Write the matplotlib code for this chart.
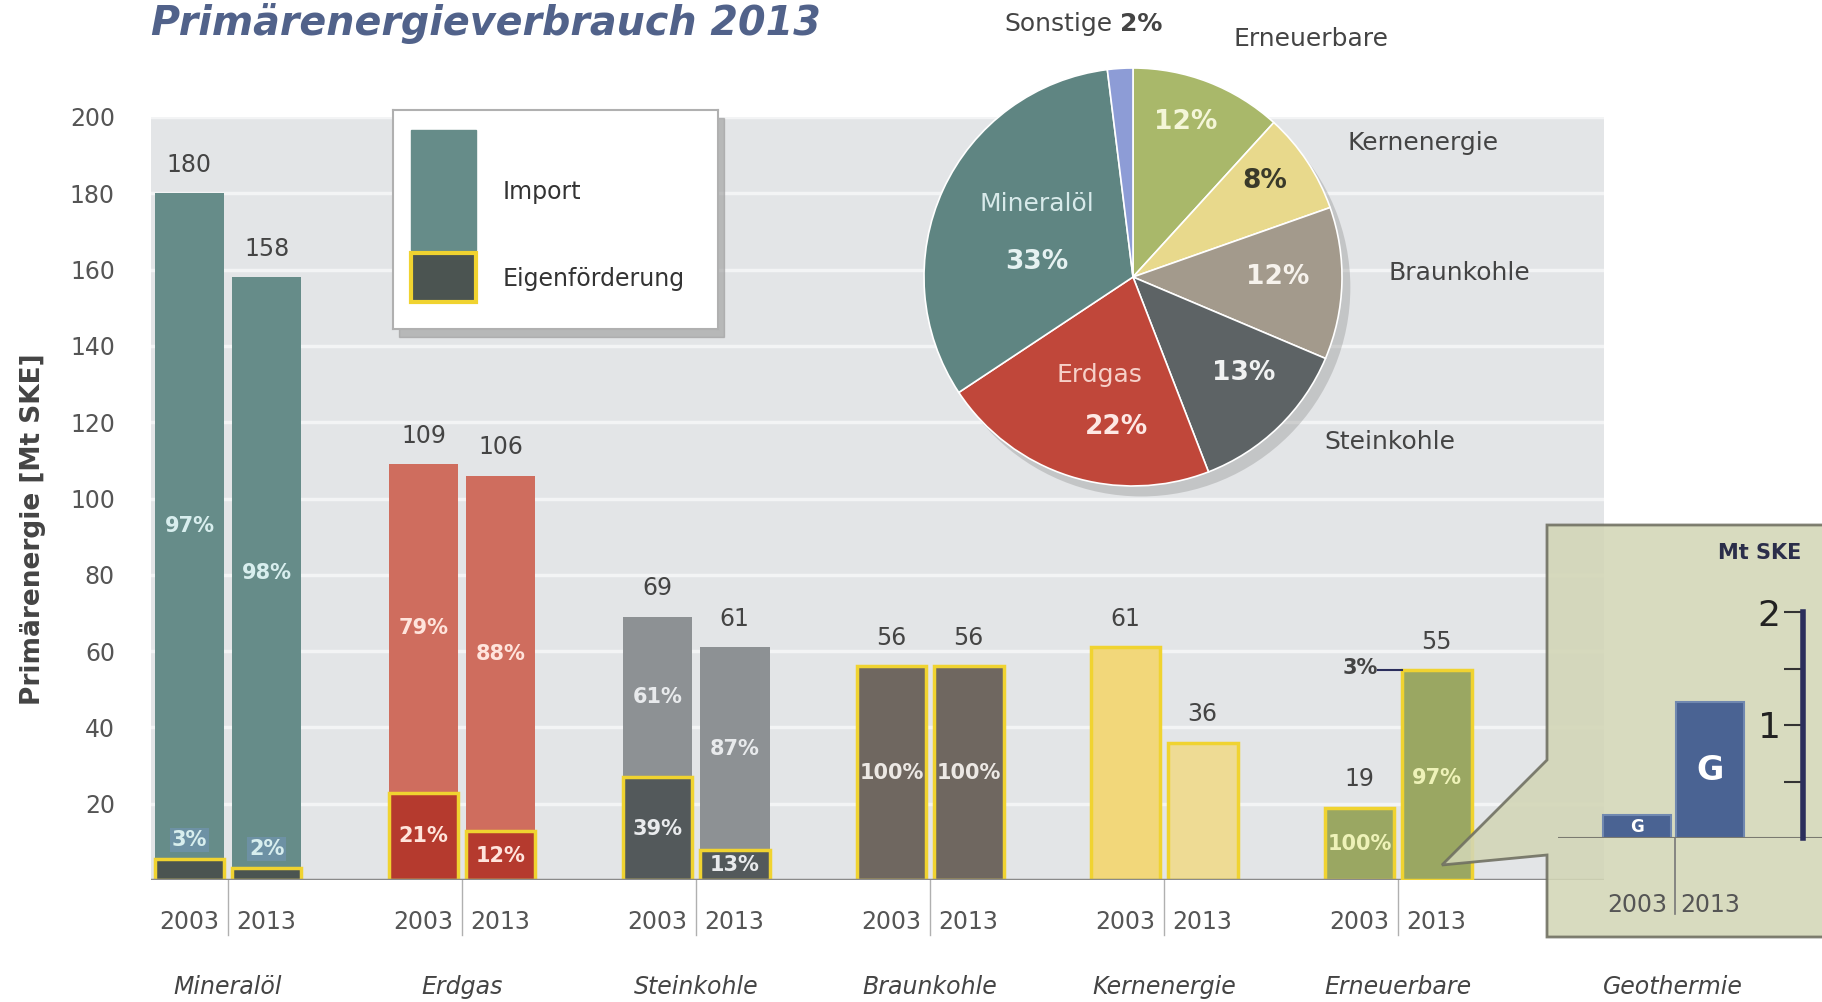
import matplotlib
matplotlib.use('Agg')
import matplotlib.pyplot as plt
from matplotlib.patches import Rectangle, Polygon, Circle

# Daten
categories = ['Mineralöl', 'Erdgas', 'Steinkohle', 'Braunkohle', 'Kernenergie', 'Erneuerbare']
years = ['2003', '2013']
total_2003 = [180, 109, 69, 56, 61, 19]
total_2013 = [158, 106, 61, 56, 36, 55]
# Anteil Eigenförderung in %, None = keine Aufteilung
own_pct_2003 = [3, 21, 39, 100, None, 100]
own_pct_2013 = [2, 12, 13, 100, None, 97]

pie_labels = ['Erneuerbare', 'Kernenergie', 'Braunkohle', 'Steinkohle', 'Erdgas', 'Mineralöl', 'Sonstige']
pie_pct = [12, 8, 12, 13, 22, 33, 2]

geo_years = ['2003', '2013']
geo_values = [0.2, 1.2]

# Farben
imp_colors = ['#668c89', '#cf6d5e', '#8d9194', '#6f6760', '#f2d77a', '#9aa762']
own_colors = ['#4b5451', '#b53a2e', '#53595b', '#6f6760', '#f2d77a', '#9aa762']
pct_colors = ['#d8eeee', '#ffe4dc', '#e8eaec', '#ece8e4', '#ffffff', '#eef2b8']
imp_edge = [False, False, False, False, False, True]
yellow = '#f0d330'
pie_colors = ['#a9b86a', '#e8d98c', '#a39a8c', '#5d6365', '#c0473a', '#5f8582', '#8d9cd6']

W, H = 1822, 1002


def fx(x):
    return x / W


def fy(y):
    return 1 - y / H


fig = plt.figure(figsize=(W / 100, H / 100), dpi=100)
fig.patch.set_facecolor('white')

# Hauptdiagramm
ax = fig.add_axes([fx(151), fy(880), fx(1604 - 151), (880 - 117) / H])
ax.set_facecolor('#e3e5e7')
ax.set_xlim(-0.329, 5.88)
ax.set_ylim(0, 200)
for s in ax.spines.values():
    s.set_visible(False)
ax.set_xticks([])
ax.set_yticks(range(20, 201, 20))
ax.tick_params(axis='y', length=0, pad=26, labelsize=17, labelcolor='#555555')
for t in range(20, 201, 20):
    ax.axhline(t, color='white', lw=2.5, alpha=0.6, zorder=1)
ax.axhline(0, color='#8a8a8a', lw=2.5, zorder=4)

bw = 0.298
offsets = [-0.165, 0.165]
for i, cat in enumerate(categories):
    for j, (tot, pct) in enumerate([(total_2003[i], own_pct_2003[i]), (total_2013[i], own_pct_2013[i])]):
        x = i + offsets[j]
        ax.text(x, tot + 7.5, str(tot), ha='center', va='center', fontsize=17, color='#444444', zorder=6)
        if pct is None:
            col = imp_colors[i] if j == 0 else '#eedb94'
            ax.bar(x, tot, width=bw, color=col, edgecolor=yellow, lw=2.5, zorder=3)
            continue
        own = tot * pct / 100
        imp = tot - own
        own_edge = yellow
        if imp > 0:
            if imp_edge[i]:
                # ganze Säule gelb umrandet
                ax.bar(x, tot, width=bw, color=imp_colors[i], edgecolor=yellow, lw=2.5, zorder=4)
                own_edge = 'none'
            else:
                ax.bar(x, imp, bottom=own, width=bw, color=imp_colors[i], lw=0, zorder=2)
            imp_pct = 100 - pct
            if imp_pct >= 10:
                ax.text(x, own + imp / 2, f'{imp_pct}%', ha='center', va='center', fontsize=15,
                        fontweight='bold', color=pct_colors[i], zorder=6)
            else:
                ax.text(x - bw / 2 - 0.1, tot + 0.5, f'{imp_pct}%', ha='right', va='center', fontsize=15,
                        fontweight='bold', color='#444444', zorder=6)
                ax.plot([x - bw / 2 - 0.1, x - bw / 2], [tot, tot], color='#2b2e5c', lw=1.5, zorder=6)
        if own_edge == 'none':
            ax.bar(x, own, width=bw, color=own_colors[i], lw=0, zorder=3)
        else:
            ax.bar(x, own, width=bw, color=own_colors[i], edgecolor=yellow, lw=2.5, zorder=3)
        ly = own + 5 if own < 7 else own / 2
        bbox = dict(boxstyle='square,pad=0.1', fc='#6f93ac', ec='none', alpha=0.8) if own < 7 else None
        ax.text(x, ly, f'{pct}%', ha='center', va='center', fontsize=15, fontweight='bold',
                color=pct_colors[i], zorder=6, bbox=bbox)
    # Jahresbeschriftung
    for j in range(2):
        ax.text(i + offsets[j], -11, years[j], ha='center', va='center', fontsize=17,
                color='#555555', clip_on=False)
    ax.plot([i, i], [0, -14.5], color='#b0b0b0', lw=1, clip_on=False)
    ax.text(i, -28, cat, ha='center', va='center', fontsize=17, style='italic',
            color='#444444', clip_on=False)

# Titel und Achsenbeschriftung
fig.text(fx(151), fy(23), 'Primärenergieverbrauch 2013', ha='left', va='center', fontsize=28.5,
         fontweight='bold', style='italic', color='#51628a')
fig.text(fx(33), fy(529), 'Primärenergie [Mt SKE]', rotation=90, ha='center', va='center',
         fontsize=19, fontweight='bold', color='#444444')

# Legende
fig.add_artist(Rectangle((fx(399), fy(337)), fx(325), 219 / H, transform=fig.transFigure,
                         color='#9a9a9a', alpha=0.6, zorder=2))
lax = fig.add_axes([fx(393), fy(329), fx(325), 219 / H], zorder=3)
lax.set_xlim(0, 1)
lax.set_ylim(0, 1)
lax.set_xticks([])
lax.set_yticks([])
lax.set_facecolor('white')
for s in lax.spines.values():
    s.set_color('#b0b0b0')
    s.set_linewidth(1.5)
lax.add_patch(Rectangle((0.055, 0.361), 0.2, 0.548, color=imp_colors[0]))
lax.add_patch(Rectangle((0.055, 0.123), 0.2, 0.224, fc=own_colors[0], ec=yellow, lw=3))
lax.text(0.338, 0.626, 'Import', fontsize=17, va='center', color='#333333')
lax.text(0.338, 0.228, 'Eigenförderung', fontsize=17, va='center', color='#333333')

# Tortendiagramm
r_ext = 1.15
pax = fig.add_axes([fx(1133 - 209 * r_ext), fy(277 + 209 * r_ext), fx(2 * 209 * r_ext), 2 * 209 * r_ext / H],
                   zorder=3)
pax.set_xlim(-r_ext, r_ext)
pax.set_ylim(-r_ext, r_ext)
pax.axis('off')
pax.add_patch(Circle((0.04, -0.05), 1.0, color='#8a8a8a', alpha=0.35, lw=0))
pax.pie(pie_pct, colors=pie_colors, startangle=90, counterclock=False,
        wedgeprops=dict(edgecolor='white', linewidth=1.2), radius=1.0)
pax.set_xlim(-r_ext, r_ext)
pax.set_ylim(-r_ext, r_ext)
pax.set_aspect('equal')

inner = {
    'Erneuerbare': (0.25, 0.74, '#f4f6d8'),
    'Kernenergie': (0.63, 0.46, '#3a3a2a'),
    'Braunkohle': (0.69, 0.0, '#f6f2ec'),
    'Steinkohle': (0.53, -0.46, '#f0f2f2'),
    'Erdgas': (-0.08, -0.72, '#fde8e4'),
    'Mineralöl': (-0.46, 0.07, '#e6f2f2'),
}
for lab, p in zip(pie_labels, pie_pct):
    if lab in inner:
        x, y, c = inner[lab]
        pax.text(x, y, f'{p}%', ha='center', va='center', fontsize=19, fontweight='bold', color=c)
pax.text(-0.16, -0.47, 'Erdgas', ha='center', va='center', fontsize=18, color='#f6d0c8')
pax.text(-0.46, 0.35, 'Mineralöl', ha='center', va='center', fontsize=18, color='#d8eaea')

outer = {
    'Erneuerbare': (0.85, 1.14),
    'Kernenergie': (1.39, 0.64),
    'Braunkohle': (1.56, 0.02),
    'Steinkohle': (1.23, -0.79),
}
for lab, (x, y) in outer.items():
    pax.text(x, y, lab, ha='center', va='center', fontsize=18, color='#444444')
pax.text(-0.1, 1.21, pie_labels[-1], ha='right', va='center', fontsize=18, color='#444444')
pax.text(-0.06, 1.21, f'{pie_pct[-1]}%', ha='left', va='center', fontsize=18, fontweight='bold',
         color='#444444')

# Geothermie-Ausschnitt
callout = [(1547, 525), (1547, 760), (1442, 865), (1547, 855), (1547, 937), (1830, 937), (1830, 525)]
fig.add_artist(Polygon([(fx(x), fy(y)) for x, y in callout], closed=True, transform=fig.transFigure,
                       fc='#d3d6b6', ec='#6e6e60', lw=2, alpha=0.88, zorder=1))

gax = fig.add_axes([fx(1558), fy(838), fx(W - 1558), 226 / H], zorder=2)
gax.patch.set_visible(False)
gax.set_xlim(-1.08, 2.53)
gax.set_ylim(0, 2)
gax.bar(range(len(geo_values)), geo_values, width=0.93, color='#4a6393', edgecolor='#7088b0', lw=1.5)
for k, v in enumerate(geo_values):
    gax.text(k, v / 2, 'G', ha='center', va='center', color='white', fontweight='bold',
             fontsize=12 if v < 0.5 else 24)
    gax.text(k, -0.59, geo_years[k], ha='center', va='center', fontsize=17, color='#555555', clip_on=False)
gax.plot([0.52, 0.52], [0, -0.67], color='#777777', lw=1.2, clip_on=False)
gax.axhline(0, color='#7a7a70', lw=1.5)
for s in ['top', 'right', 'bottom']:
    gax.spines[s].set_visible(False)
gax.spines['left'].set_position(('data', 2.27))
gax.spines['left'].set_color('#2b2e5c')
gax.spines['left'].set_linewidth(4)
gax.set_xticks([])
gax.set_yticks([1, 2])
gax.set_yticks([0.5, 1.5], minor=True)
gax.tick_params(axis='y', which='both', direction='out', length=14, width=1.5, color='#333333',
                labelsize=26, labelcolor='#222222', pad=2)
fig.text(fx(1760), fy(553), 'Mt SKE', ha='center', va='center', fontsize=15, fontweight='bold',
         color='#2b2e4a')
fig.text(fx(1673), fy(987), 'Geothermie', ha='center', va='center', fontsize=17, style='italic',
         color='#444444')

fig.savefig('out.png', dpi=100)
